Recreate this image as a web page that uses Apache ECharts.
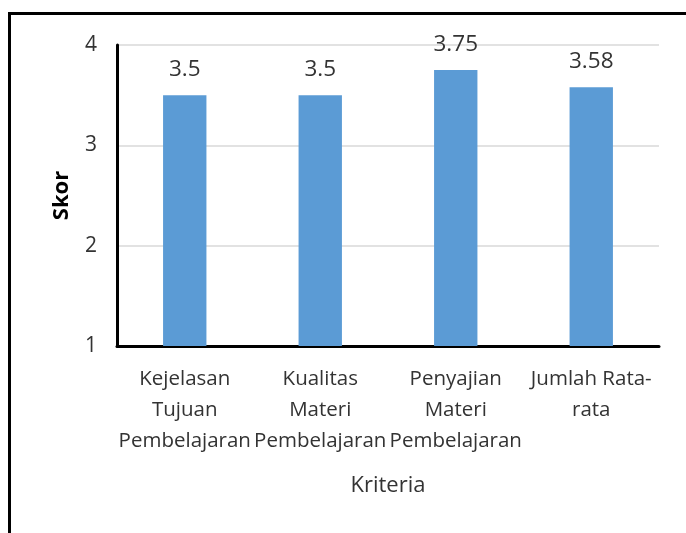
<!DOCTYPE html>
<html>
<head>
<meta charset="utf-8">
<script src="https://cdn.jsdelivr.net/npm/echarts@6/dist/echarts.min.js"></script>
<style>
  html, body { margin: 0; padding: 0; background: #fff; }
  #chart { width: 686px; height: 533px; }
</style>
</head>
<body>
<div id="chart"></div>
<script>
// Criteria and average scores
const categories = [
  'Kejelasan\nTujuan\nPembelajaran',
  'Kualitas\nMateri\nPembelajaran',
  'Penyajian\nMateri\nPembelajaran',
  'Jumlah Rata-\nrata'
];
const scores = [3.5, 3.5, 3.75, 3.58];
const yTicks = [1, 2, 3, 4];

const FONT = '"Open Sans", "Noto Sans", sans-serif';
const TEXT = '#333333';

const chart = echarts.init(document.getElementById('chart'), null, { renderer: 'canvas' });
chart.setOption({
  animation: false,
  backgroundColor: '#fff',
  graphic: [{
    type: 'rect',
    shape: { x: 9.5, y: 13.5, width: 720, height: 600 },
    style: { fill: 'none', stroke: '#000', lineWidth: 3 },
    silent: true
  }],
  grid: { left: 117, top: 45, right: 27, bottom: 187, containLabel: false },
  xAxis: {
    type: 'category',
    data: categories,
    name: 'Kriteria',
    nameLocation: 'middle',
    nameGap: 129,
    nameTextStyle: { fontFamily: FONT, fontSize: 22, color: TEXT },
    axisLine: { lineStyle: { color: '#000', width: 3 } },
    axisTick: { show: false },
    axisLabel: {
      interval: 0,
      margin: 18,
      fontFamily: FONT,
      fontSize: 20.5,
      lineHeight: 31,
      color: TEXT
    }
  },
  yAxis: {
    type: 'value',
    min: yTicks[0],
    max: yTicks[yTicks.length - 1],
    interval: 1,
    name: 'Skor',
    nameLocation: 'middle',
    nameGap: 44,
    nameTextStyle: { fontFamily: FONT, fontSize: 22, fontWeight: 'bold', color: '#000' },
    axisLine: { show: true, lineStyle: { color: '#000', width: 3 } },
    axisTick: { show: false },
    axisLabel: { margin: 20, fontFamily: FONT, fontSize: 21, color: TEXT },
    splitLine: { lineStyle: { color: '#d9d9d9', width: 1.5 } }
  },
  series: [{
    type: 'bar',
    data: scores,
    barWidth: '32%',
    itemStyle: { color: '#5b9bd5' },
    label: {
      show: true,
      position: 'top',
      distance: 14,
      fontFamily: FONT,
      fontSize: 22.5,
      color: TEXT
    }
  }]
});
</script>
</body>
</html>
